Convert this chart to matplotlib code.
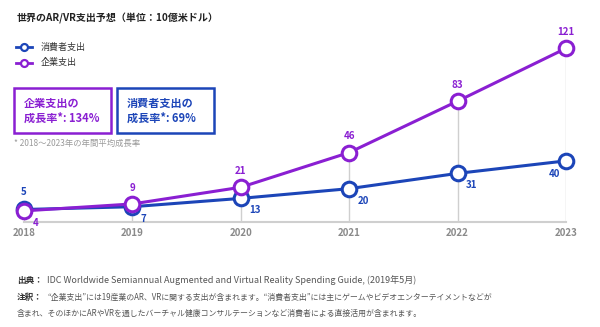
import matplotlib
matplotlib.use("Agg")
import matplotlib.pyplot as plt
from matplotlib.patches import Rectangle
from matplotlib.lines import Line2D

plt.rcParams['font.family'] = ['Noto Sans CJK JP', 'DejaVu Sans']

years = [2018, 2019, 2020, 2021, 2022, 2023]
consumer = [5, 7, 13, 20, 31, 40]
enterprise = [4, 9, 21, 46, 83, 121]
series_names = ["消費者支出", "企業支出"]
growth = ["69%", "134%"]

purple = "#8a1fd2"
blue = "#1c45b8"
grey = "#cfcfcf"

W, H = 600, 327
fig = plt.figure(figsize=(W / 100, H / 100), dpi=100)


def fx(x):
    return x / W


def fy(y):
    return 1 - y / H


ax = fig.add_axes([fx(24), fy(222), fx(542), (222 - 40) / H])
ax.set_xlim(2018, 2023)
ax.set_ylim(-4, 127)

top = [max(a, b) for a, b in zip(consumer, enterprise)]
ax.vlines(years, -4, top, color=grey, lw=1, zorder=1)

ax.plot(years, consumer, color=blue, lw=2.2, marker="o", ms=10.5, mfc="white",
        mec=blue, mew=2.2, zorder=3, clip_on=False)
ax.plot(years, enterprise, color=purple, lw=2.2, marker="o", ms=10.5, mfc="white",
        mec=purple, mew=2.2, zorder=4, clip_on=False)

# value labels (offsets in points)
c_off = [(0, 9, "center", "bottom"), (6, -5, "left", "top"), (6, -5, "left", "top"),
         (6, -5, "left", "top"), (6, -5, "left", "top"), (-4, -6, "right", "top")]
e_off = [(6, -5, "left", "top")] + [(0, 8, "center", "bottom")] * 5
for x, v, o in zip(years, consumer, c_off):
    ax.annotate(str(v), (x, v), xytext=o[:2], textcoords="offset points",
                ha=o[2], va=o[3], color=blue, fontsize=7, fontweight="bold")
for x, v, o in zip(years, enterprise, e_off):
    ax.annotate(str(v), (x, v), xytext=o[:2], textcoords="offset points",
                ha=o[2], va=o[3], color=purple, fontsize=7, fontweight="bold")

for s in ["top", "right", "left"]:
    ax.spines[s].set_visible(False)
ax.spines["bottom"].set_color(grey)
ax.spines["bottom"].set_linewidth(1.5)
ax.set_yticks([])
ax.set_xticks(years)
ax.set_xticklabels([str(y) for y in years], color="#8a8a8a", fontsize=7, fontweight="bold")
ax.tick_params(axis="x", length=0, pad=4)

# title and legend
fig.text(fx(17), fy(18), "世界のAR/VR支出予想（単位：10億米ドル）", fontsize=7.2,
         fontweight="bold", va="center", color="#222222")
for i, (name, col) in enumerate(zip(series_names, [blue, purple])):
    y = 47 + i * 16
    fig.add_artist(Line2D([fx(16), fx(32)], [fy(y), fy(y)], color=col, lw=2))
    fig.add_artist(Line2D([fx(24)], [fy(y)], color=col, marker="o", ms=5,
                          mfc="white", mew=1.6, lw=0))
    fig.text(fx(41), fy(y), name, fontsize=6.5, va="center", color="#333333")

# growth boxes
boxes = [(14, purple, "企業支出の", growth[1]), (117, blue, "消費者支出の", growth[0])]
for x0, col, line1, g in boxes:
    fig.add_artist(Rectangle((fx(x0), fy(133)), fx(97), 45 / H, fill=False,
                             edgecolor=col, lw=1.8, transform=fig.transFigure))
    fig.text(fx(x0 + 10), fy(103), line1, fontsize=8, fontweight="bold",
             color=col, va="center")
    fig.text(fx(x0 + 10), fy(118), "成長率*: " + g, fontsize=8, fontweight="bold",
             color=col, va="center")
fig.text(fx(14), fy(143), "* 2018～2023年の年間平均成長率", fontsize=6,
         color="#9a9a9a", va="center")

# source & notes
fig.text(fx(17), fy(280), "出典：", fontsize=6.2, fontweight="bold", color="#333333", va="center")
fig.text(fx(47), fy(280), "IDC Worldwide Semiannual Augmented and Virtual Reality Spending Guide, (2019年5月)",
         fontsize=6.5, color="#555555", va="center")
fig.text(fx(17), fy(297), "注釈：", fontsize=6.2, fontweight="bold", color="#333333", va="center")
fig.text(fx(47), fy(297), "“企業支出”には19産業のAR、VRに関する支出が含まれます。“消費者支出”には主にゲームやビデオエンターテイメントなどが",
         fontsize=5.7, color="#555555", va="center")
fig.text(fx(17), fy(313), "含まれ、そのほかにARやVRを通したバーチャル健康コンサルテーションなど消費者による直接活用が含まれます。",
         fontsize=5.7, color="#555555", va="center")

fig.savefig("out.png", dpi=100)
